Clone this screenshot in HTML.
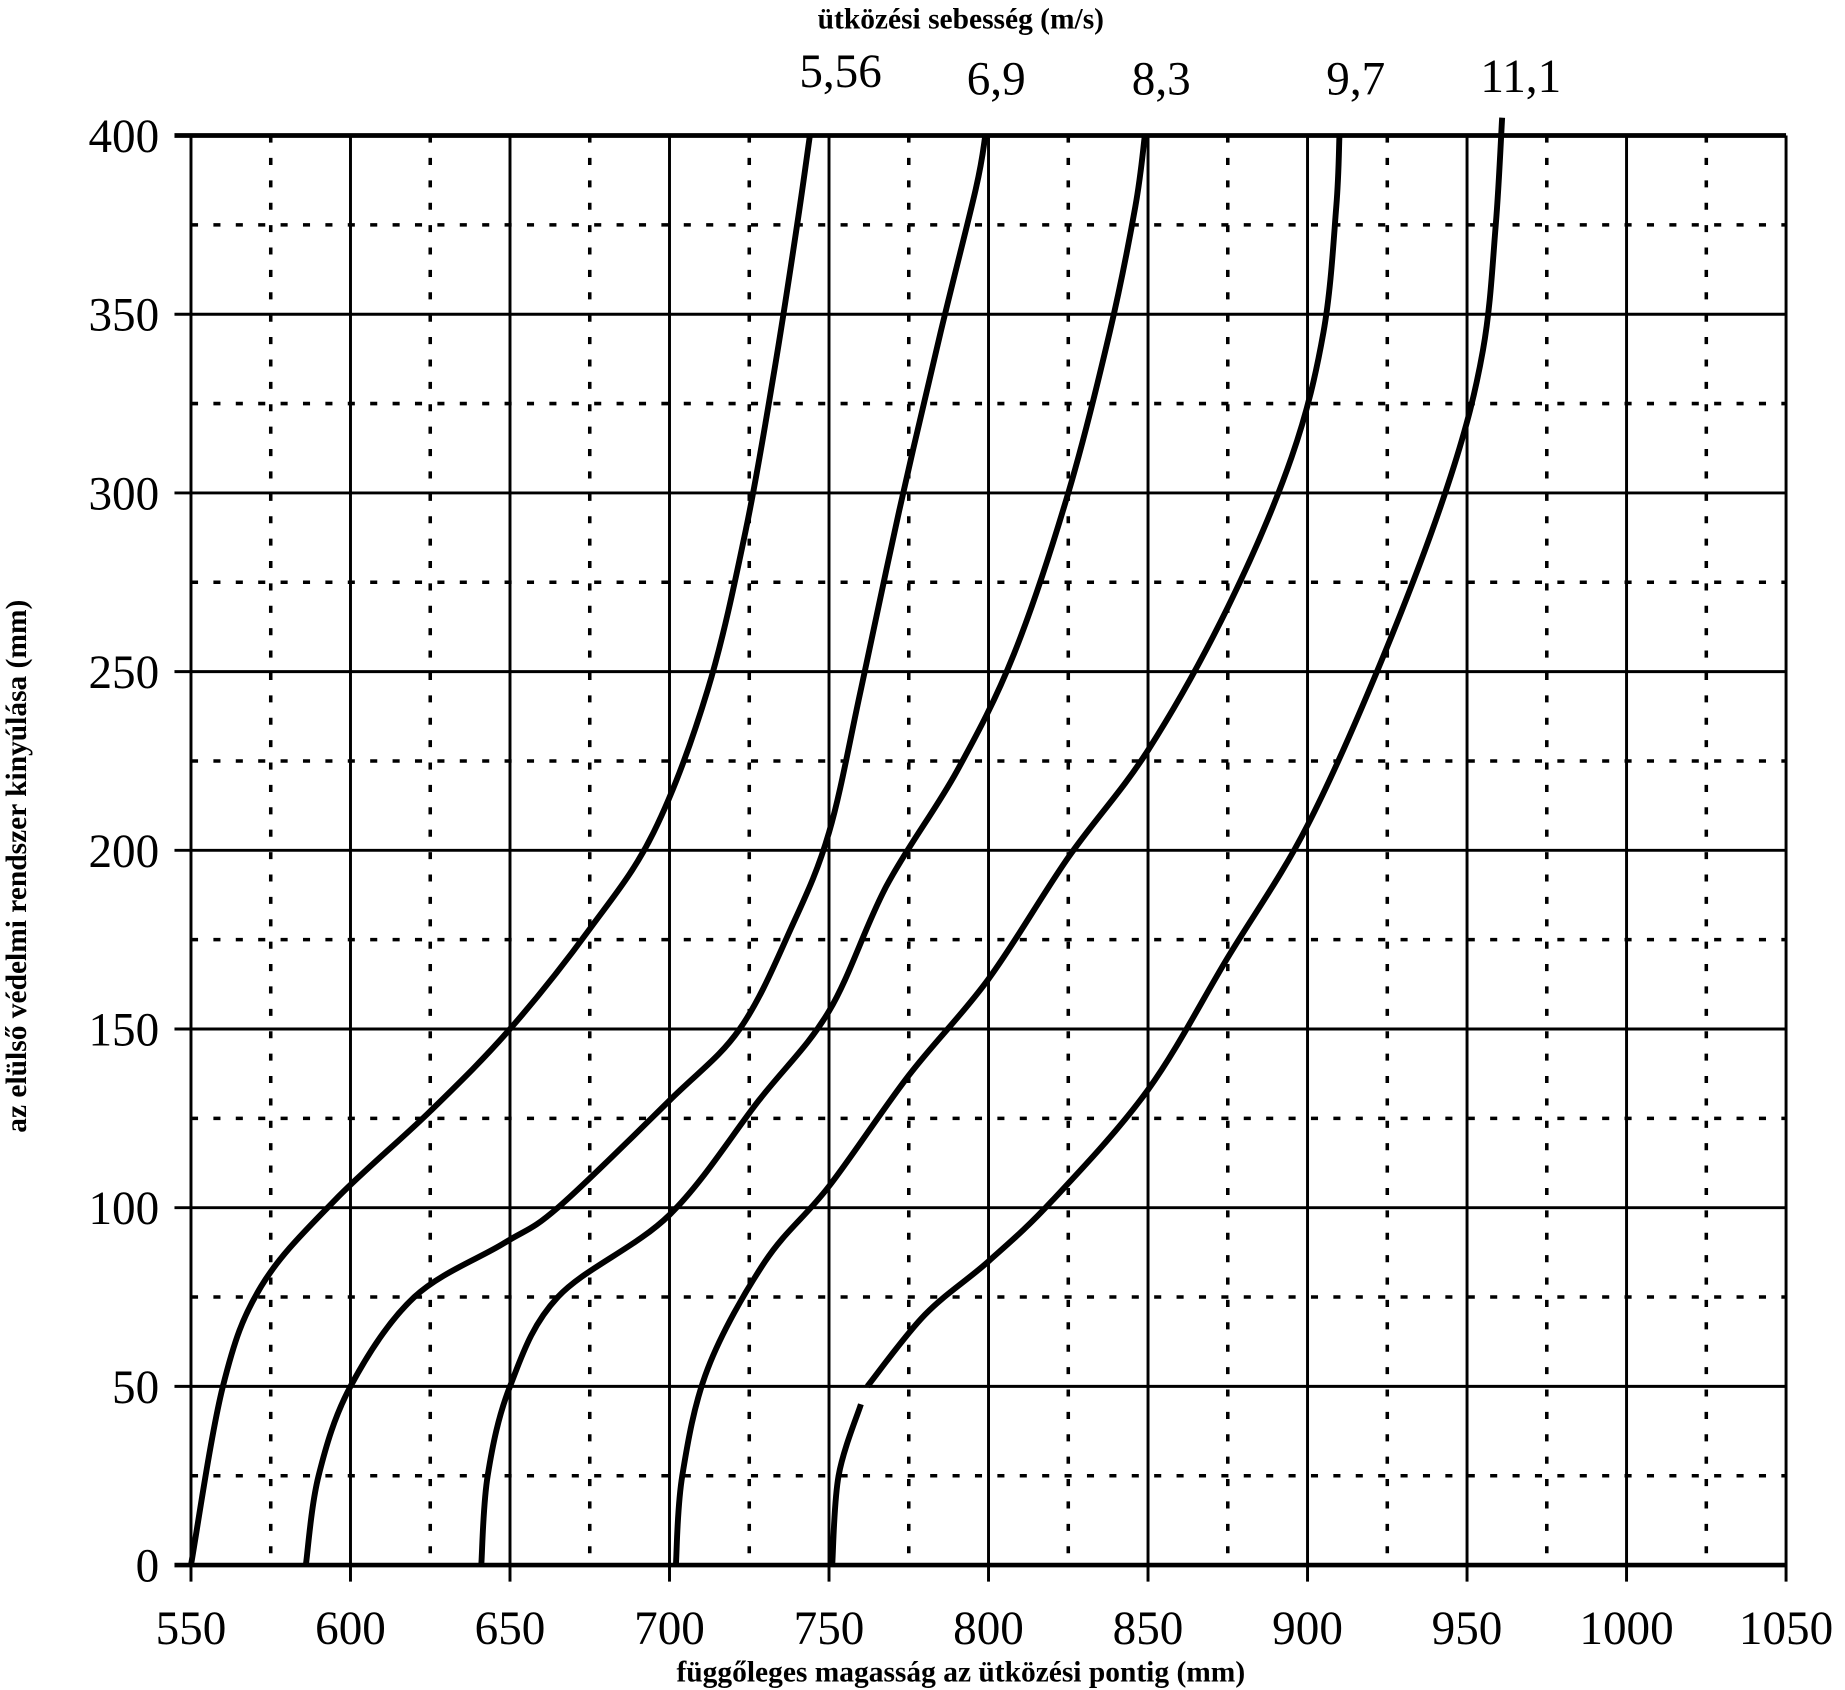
<!DOCTYPE html>
<html><head><meta charset="utf-8"><style>html,body{margin:0;padding:0;background:#fff}svg{display:block}</style></head>
<body>
<svg id="s" width="1845" height="1690" viewBox="0 0 1565 1434" preserveAspectRatio="none" xmlns="http://www.w3.org/2000/svg" font-family="Liberation Serif, serif">
<rect width="1565" height="1434" fill="#fff"/>
<g id="g"></g>
<text x="815" y="24" font-size="25" font-weight="bold" text-anchor="middle">ütközési sebesség (m/s)</text>
<g font-size="40" text-anchor="middle">
<text x="713" y="74">5,56</text><text x="845" y="80">6,9</text><text x="985" y="80">8,3</text><text x="1150" y="80">9,7</text><text x="1290" y="78">11,1</text>
</g>
<text x="815" y="1427" font-size="25" font-weight="bold" text-anchor="middle">függőleges magasság az ütközési pontig (mm)</text>
<text transform="translate(22,735) rotate(-90)" font-size="25" font-weight="bold" text-anchor="middle">az elülső védelmi rendszer kinyúlása (mm)</text>
</svg>
<script>
var g=document.getElementById('g'),h='';
function X(v){return 162+(v-550)*1353/500}
function Y(v){return 1328-v*1213/400}
for(var v=575;v<1050;v+=50)h+='<line x1="'+X(v)+'" y1="115" x2="'+X(v)+'" y2="1328" stroke="#000" stroke-width="3" stroke-dasharray="6,13"/>';
for(var v=25;v<400;v+=50)h+='<line x1="162" y1="'+Y(v)+'" x2="1515" y2="'+Y(v)+'" stroke="#000" stroke-width="3" stroke-dasharray="6,13"/>';
for(var v=550;v<=1050;v+=50)h+='<line x1="'+X(v)+'" y1="115" x2="'+X(v)+'" y2="1342" stroke="#000" stroke-width="2.5"/>';
for(var v=0;v<=400;v+=50)h+='<line x1="148" y1="'+Y(v)+'" x2="1515" y2="'+Y(v)+'" stroke="#000" stroke-width="'+((v==0||v==400)?4:2.5)+'"/>';
for(var v=550;v<=1050;v+=50)h+='<text x="'+X(v)+'" y="1395" font-size="40" text-anchor="middle">'+v+'</text>';
for(var v=0;v<=400;v+=50)h+='<text x="135" y="'+(Y(v)+14)+'" font-size="40" text-anchor="end">'+v+'</text>';
var C=[
[[550,0],[560,50],[572,78],[595,102],[625,127],[650,150],[675,178],[695,205],[712,245],[724,290],[733,335],[740,375],[744,400]],
[[586,0],[590,25],[600,50],[620,75],[648,90],[665,100],[700,130],[722,150],[738,178],[750,205],[760,245],[772,295],[785,345],[796,385],[799,400]],
[[641,0],[643,25],[650,50],[665,75],[700,98],[728,130],[750,155],[768,190],[790,222],[808,255],[825,300],[838,345],[846,380],[849,400]],
[[702,0],[704,25],[712,55],[730,85],[750,106],[775,137],[800,164],[825,198],[850,228],[875,268],[895,310],[905,345],[909,380],[910,400]],
[[751,0],[753,25],[760,45]],
[[762,50],[780,70],[800,85],[820,102],[850,133],[875,170],[900,207],[925,257],[945,305],[955,340],[959,375],[961,405]]];
C.forEach(function(c){
 var p=c.map(function(q){return [X(q[0]),Y(q[1])]});
 var d='M'+p[0][0]+','+p[0][1];
 for(var i=0;i<p.length-1;i++){
  var p0=p[i-1]||p[i],p1=p[i],p2=p[i+1],p3=p[i+2]||p2;
  d+=' C'+(p1[0]+(p2[0]-p0[0])/6)+','+(p1[1]+(p2[1]-p0[1])/6)+' '+(p2[0]-(p3[0]-p1[0])/6)+','+(p2[1]-(p3[1]-p1[1])/6)+' '+p2[0]+','+p2[1];
 }
 h+='<path d="'+d+'" fill="none" stroke="#000" stroke-width="5" stroke-linejoin="round"/>';
});
g.innerHTML=h;
</script>
</body></html>
